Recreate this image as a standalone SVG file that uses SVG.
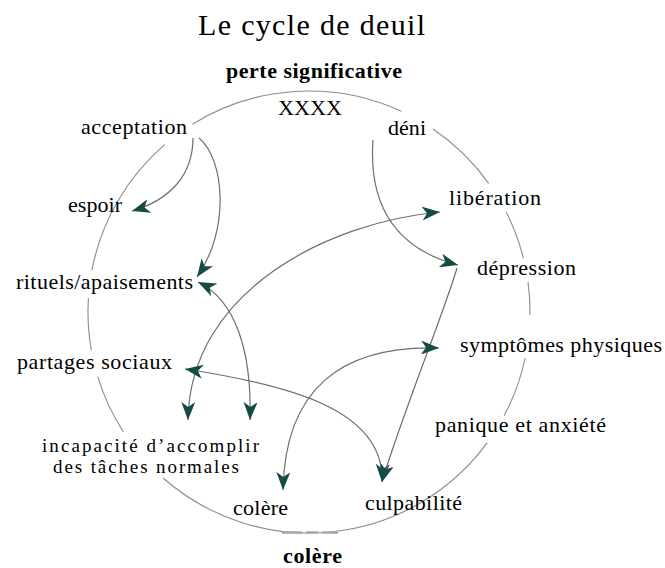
<svg xmlns="http://www.w3.org/2000/svg" width="665" height="568" viewBox="0 0 665 568">
<style>
text{font-family:"Liberation Serif","Times New Roman",serif;fill:#000;font-size:22px}
.b{font-weight:bold}
.t{font-size:30px}
.s{font-size:19px}
.ring{fill:none;stroke:#8c8c8c;stroke-width:1.1}
.c{fill:none;stroke:#6e6e6e;stroke-width:1.2}
</style>
<defs>
<marker id="ah" markerUnits="userSpaceOnUse" markerWidth="20" markerHeight="14" refX="18" refY="7" orient="auto-start-reverse" viewBox="0 0 20 14">
<path d="M0,0 L18,7 L0,14 L5,7 z" fill="#134b45"/>
</marker>
</defs>
<rect width="665" height="568" fill="#fff"/>
<g id="title">
<text class="t" x="198" y="35" textLength="227" lengthAdjust="spacing">Le cycle de deuil</text>
</g>
<g id="connectors">
<g id="ring">
<path class="ring" d="M192.5,124.2 A221,221 0 0 1 401.4,111.3"/>
<path class="ring" d="M433,129 A221,221 0 0 1 488.7,183.4"/>
<path class="ring" d="M506.2,212 A221,221 0 0 1 523.4,258.1"/>
<path class="ring" d="M528,282 A221,221 0 0 1 530,315.1"/>
<path class="ring" d="M525.2,358 A221,221 0 0 1 504.1,415.7"/>
<path class="ring" d="M487.3,442.6 A221,221 0 0 1 163.1,478"/>
<path class="ring" d="M123.3,431.7 A221,221 0 0 1 97.7,376.6"/>
<path class="ring" d="M91.3,350.4 A221,221 0 0 1 88.4,298.1"/>
<path class="ring" d="M91.9,270.2 A221,221 0 0 1 164.7,144.7"/>
<path d="M282,532.6 L338,532.6" stroke="#a8a8a8" stroke-width="2.5" stroke-dasharray="20,4,12,4,20"/>
</g>
<path class="c" d="M193,138 C193,175 170,200 132,211" marker-end="url(#ah)"/>
<path class="c" d="M199,138 C225,160 230,230 197,277" marker-end="url(#ah)"/>
<path class="c" d="M198,282 C235,300 252,350 250,420" marker-start="url(#ah)" marker-end="url(#ah)"/>
<path class="c" d="M440,212 C330,222 190,290 188,420" marker-start="url(#ah)" marker-end="url(#ah)"/>
<path class="c" d="M185,369 C290,385 385,410 382,482" marker-start="url(#ah)" marker-end="url(#ah)"/>
<path class="c" d="M373,140 C368,210 400,250 458,265" marker-end="url(#ah)"/>
<path class="c" d="M457,268 C445,310 400,420 382,482" marker-end="url(#ah)"/>
<path class="c" d="M439,348 C340,345 285,390 283,490" marker-start="url(#ah)" marker-end="url(#ah)"/>
</g>
<g id="perte"><text class="b" x="226" y="78" textLength="176" lengthAdjust="spacing">perte significative</text></g>
<g id="xxxx"><text x="278" y="115" font-size="21" textLength="64" lengthAdjust="spacingAndGlyphs">XXXX</text></g>
<g id="acceptation"><text x="81" y="134" textLength="106" lengthAdjust="spacing">acceptation</text></g>
<g id="deni"><text x="388" y="135" textLength="38" lengthAdjust="spacing">déni</text></g>
<g id="espoir"><text x="68" y="212" textLength="54" lengthAdjust="spacing">espoir</text></g>
<g id="liberation"><text x="449" y="205" textLength="92" lengthAdjust="spacing">libération</text></g>
<g id="depression"><text x="477" y="275" textLength="99" lengthAdjust="spacing">dépression</text></g>
<g id="rituels"><text x="16" y="289" textLength="177" lengthAdjust="spacing">rituels/apaisements</text></g>
<g id="symptomes"><text x="460" y="352" textLength="202" lengthAdjust="spacing">symptômes physiques</text></g>
<g id="partages"><text x="17" y="369" textLength="155" lengthAdjust="spacing">partages sociaux</text></g>
<g id="panique"><text x="435" y="432" textLength="171" lengthAdjust="spacing">panique et anxiété</text></g>
<g id="incapacite">
<text class="s" x="42" y="452" textLength="217" lengthAdjust="spacing">incapacité d’accomplir</text>
<text class="s" x="53" y="473" textLength="186" lengthAdjust="spacing">des tâches normales</text>
</g>
<g id="colere-node"><text x="233" y="515" textLength="55" lengthAdjust="spacing">colère</text></g>
<g id="culpabilite"><text x="365" y="510" textLength="97" lengthAdjust="spacing">culpabilité</text></g>
<g id="colere"><text class="b" x="283" y="563" textLength="59" lengthAdjust="spacing">colère</text></g>
</svg>
